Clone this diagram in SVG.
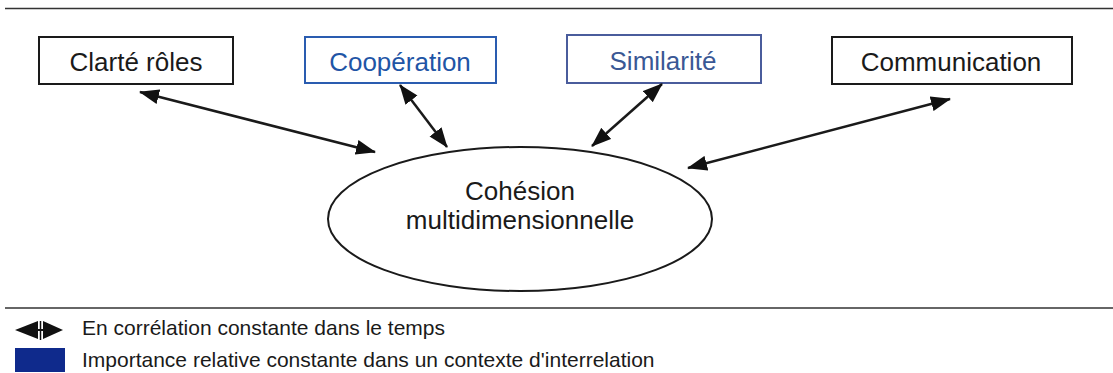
<svg xmlns="http://www.w3.org/2000/svg" width="1113" height="373" viewBox="0 0 1113 373">
<style>
.box{fill:#fff;stroke-width:2}
.lbl{font-family:"Liberation Sans",Arial,sans-serif;font-size:26px;text-anchor:middle}
.leg{font-family:"Liberation Sans",Arial,sans-serif;font-size:21px;fill:#1a1a1a}
.conn{stroke:#1a1a1a;stroke-width:2.5;fill:none;marker-start:url(#ah);marker-end:url(#ah)}
.sep{stroke:#333;stroke-width:1.6}
</style>
<defs>
<marker id="ah" markerUnits="userSpaceOnUse" markerWidth="20" markerHeight="16" refX="19" refY="7.5" orient="auto-start-reverse" viewBox="0 0 20 15">
<path d="M0,0 L20,7.5 L0,15 z" fill="#111"/>
</marker>
</defs>
<rect width="1113" height="373" fill="#fff"/>
<line class="sep" x1="5" y1="8.5" x2="1113" y2="8.5"/>
<line class="sep" x1="5" y1="308" x2="1113" y2="308"/>
<g id="clarte">
<rect class="box" x="39" y="37" width="194" height="47" stroke="#1a1a1a"/>
<text class="lbl" x="136" y="71" fill="#1a1a1a">Clarté rôles</text>
</g>
<g id="cooperation">
<rect class="box" x="305" y="37" width="191" height="46" stroke="#2a5cb0"/>
<text class="lbl" x="400" y="71" fill="#1f55a6">Coopération</text>
</g>
<g id="similarite">
<rect class="box" x="567" y="35" width="194" height="48" stroke="#4a5c9c"/>
<text class="lbl" x="663" y="70" fill="#3a5895">Similarité</text>
</g>
<g id="communication">
<rect class="box" x="832" y="37" width="240" height="47" stroke="#1a1a1a"/>
<text class="lbl" x="951" y="71" fill="#1a1a1a">Communication</text>
</g>
<g id="cohesion">
<ellipse cx="520" cy="219" rx="192" ry="72" fill="#fff" stroke="#1a1a1a" stroke-width="2"/>
<text class="lbl" x="520" y="200" fill="#1a1a1a">Cohésion</text>
<text class="lbl" x="520" y="229" fill="#1a1a1a">multidimensionnelle</text>
</g>
<g id="connectors">
<line class="conn" x1="140" y1="92" x2="375" y2="152"/>
<line class="conn" x1="400" y1="85" x2="447" y2="147"/>
<line class="conn" x1="662" y1="84" x2="592" y2="146"/>
<line class="conn" x1="950" y1="99" x2="688" y2="168"/>
</g>
<g id="legend">
<polygon points="15,330 38,321 38,339" fill="#111"/>
<polygon points="63,330 43,321 43,339" fill="#111"/>
<line x1="38" y1="330" x2="43" y2="330" stroke="#111" stroke-width="2"/>
<line x1="40.5" y1="321" x2="40.5" y2="340" stroke="#111" stroke-width="1.5"/>
<text class="leg" x="82" y="335">En corrélation constante dans le temps</text>
<rect x="15" y="348" width="50" height="24" fill="#0f2a8c"/>
<text class="leg" x="82" y="367">Importance relative constante dans un contexte d'interrelation</text>
</g>
</svg>
